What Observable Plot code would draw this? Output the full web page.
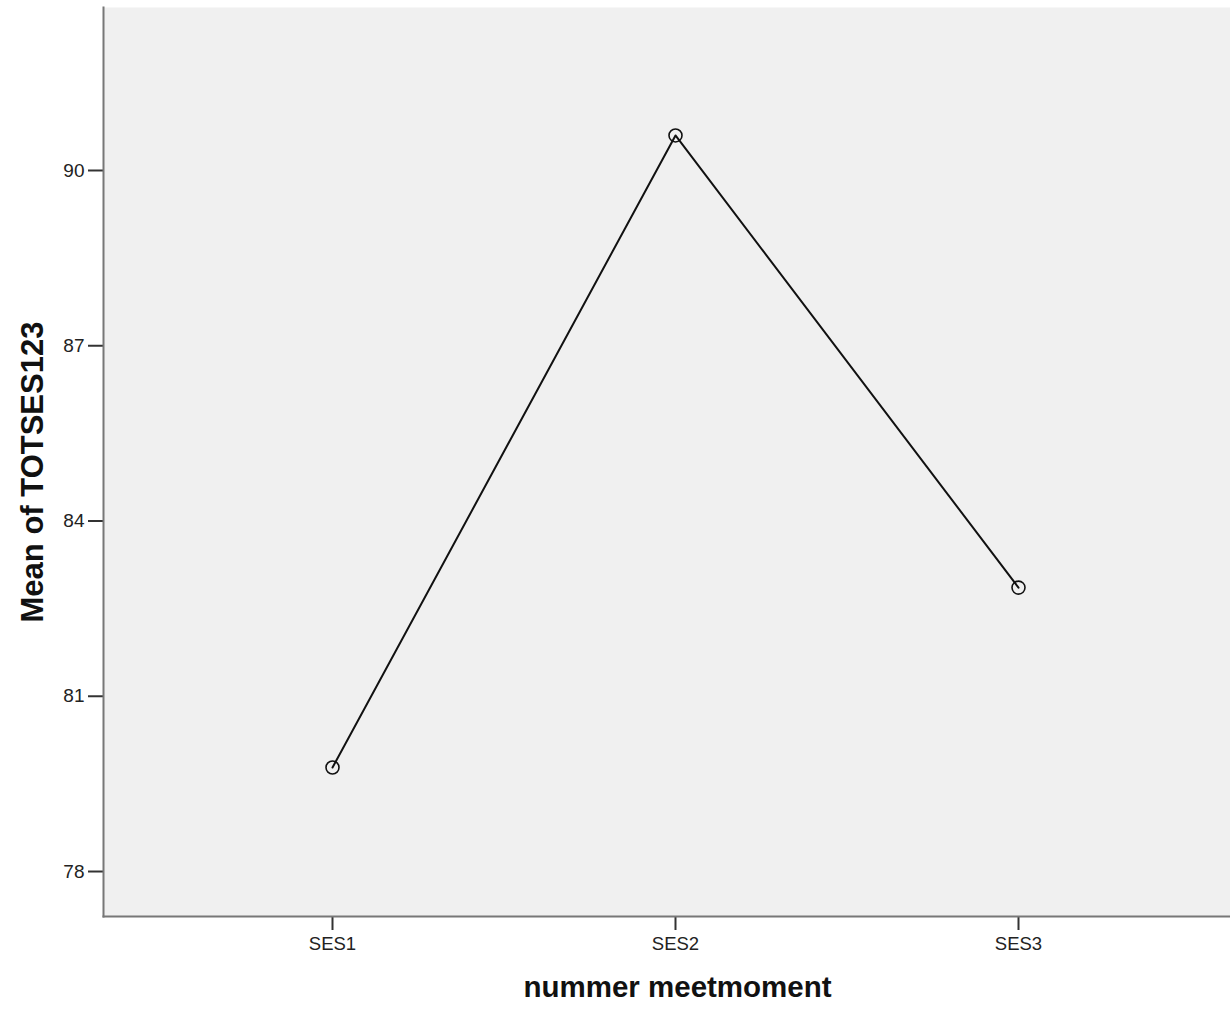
<!DOCTYPE html>
<html>
<head>
<meta charset="utf-8">
<script src="https://cdn.jsdelivr.net/npm/d3@7"></script>
<script src="https://cdn.jsdelivr.net/npm/@observablehq/plot@0.6"></script>
<style>
  html, body { margin: 0; padding: 0; background: #fff; }
  #chart { width: 1230px; height: 1010px; }
  svg { font-family: "Liberation Sans", Arial, sans-serif; }
  g[aria-label="y-axis tick"], g[aria-label="x-axis tick"] { stroke-width: 2px; }
  g[aria-label="y-axis tick"] path, g[aria-label="x-axis tick"] path { stroke-width: 2px; stroke: #333; }
</style>
</head>
<body>
<div id="chart"></div>
<script>
const sessions = ["SES1", "SES2", "SES3"];
const means = [79.78, 90.60, 82.86];
const yTicks = [78, 81, 84, 87, 90];
const xTitle = "nummer meetmoment";
const yTitle = "Mean of TOTSES123";

const data = sessions.map((s, i) => ({session: s, mean: means[i]}));

const chart = Plot.plot({
  width: 1230,
  height: 1010,
  marginLeft: 103,
  marginRight: 0,
  marginTop: 7,
  marginBottom: 94,
  style: {fontFamily: "Liberation Sans, Arial, sans-serif", fontSize: "18.5px", color: "#222", background: "#fff"},
  x: {type: "point", domain: sessions, padding: 0.667, insetRight: -17, label: null},
  y: {domain: [77.23, 92.79], label: null},
  marks: [
    Plot.frame({fill: "#f0f0f0", stroke: null}),
    Plot.line(data, {x: "session", y: "mean", stroke: "#111", strokeWidth: 2}),
    Plot.dot(data, {x: "session", y: "mean", r: 6.5, stroke: "#111", strokeWidth: 1.6, fill: "none"}),
    Plot.axisY(yTicks, {tickSize: 15, tickPadding: 4, stroke: "#333", strokeWidth: 2, fontSize: 19, fill: "#222", tickFormat: d => String(d), label: null}),
    Plot.axisX({tickSize: 14, tickPadding: 6, stroke: "#333", strokeWidth: 2, fontSize: 18.5, fill: "#222", label: null}),
    Plot.frame({anchor: "left", stroke: "#777", strokeWidth: 2}),
    Plot.frame({anchor: "bottom", stroke: "#777", strokeWidth: 2}),
    Plot.text([xTitle], {frameAnchor: "bottom", dy: 80, dx: 10.5, fontSize: 29.5, fontWeight: "bold", fill: "#111", text: d => d}),
    Plot.text([yTitle], {frameAnchor: "left", dx: -70, dy: 10, rotate: -90, textAnchor: "middle", fontSize: 31, fontWeight: "bold", fill: "#111", text: d => d})
  ]
});
document.getElementById("chart").appendChild(chart);
</script>
</body>
</html>
